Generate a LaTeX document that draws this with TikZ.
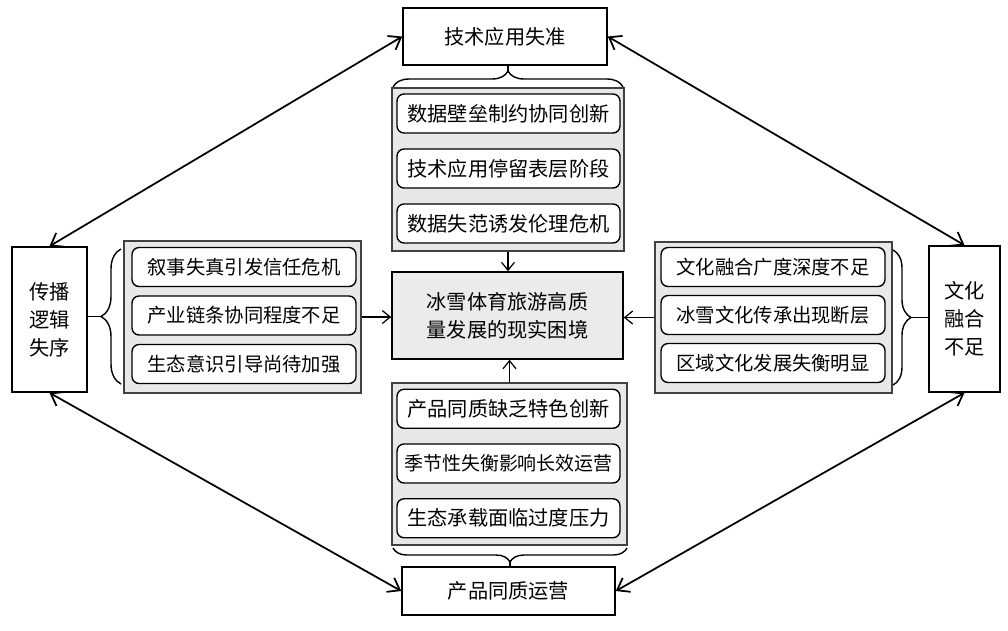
\documentclass[tikz,border=0pt]{standalone}
\usepackage{fontspec}
\newfontfamily\cjk{Noto Sans CJK SC}
\usetikzlibrary{arrows.meta,decorations.pathreplacing}

\begin{document}
\begin{tikzpicture}[x=0.02cm, y=-0.02cm, font=\cjk\fontsize{11.5}{16}\selectfont,
      box/.style={draw, line width=0.9pt, fill=white, align=center, inner sep=0pt},
      hub/.style={box, fill=black!8, minimum width=4.62cm, minimum height=1.74cm},
      grp/.style={draw=black!75, line width=1pt, fill=black!9, inner sep=0pt},
      item/.style={draw, line width=0.8pt, fill=white, rounded corners=4pt,
        minimum width=4.46cm, minimum height=0.78cm, inner sep=0pt},
      side/.style={item, minimum width=4.48cm, font=\cjk\fontsize{11}{14}\selectfont},
      brc/.style={decorate, decoration={brace, amplitude=#1}, line width=0.8pt},
      arrow/.style={-{Straight Barb[length=1.6mm, width=2.6mm]}, line width=0.7pt},
      link/.style={{Straight Barb[length=2.2mm, width=3.2mm]}-{Straight Barb[length=2.2mm, width=3.2mm]}, line width=1pt}]
    \fill[white] (0,0) rectangle (1008,630);
    \useasboundingbox (0,0) rectangle (1008,630);

    % four outer problems
    \node[box, minimum width=4.08cm, minimum height=1.14cm] (tech) at (505,36.5) {技术应用失准};
    \node[box, minimum width=4.26cm, minimum height=0.96cm] (prod) at (508.5,591) {产品同质运营};
    \node[box, minimum width=1.5cm, minimum height=2.9cm] (spread) at (49.5,319.5) {传播\\逻辑\\失序};
    \node[box, minimum width=1.42cm, minimum height=2.92cm] (culture) at (964.5,319) {文化\\融合\\不足};

    % core problem
    \node[hub] (core) at (507.5,315.5) {冰雪体育旅游高质\\量发展的现实困境};

    % grey groups
    \node[grp, minimum width=4.64cm, minimum height=3.26cm] (gtop) at (508,169.5) {};
    \node[grp, minimum width=4.7cm, minimum height=3.24cm] (gbot) at (509.5,464) {};
    \node[grp, minimum width=4.74cm, minimum height=3.04cm] (gleft) at (242.5,317) {};
    \node[grp, minimum width=4.74cm, minimum height=3.02cm] (gright) at (773.5,317.5) {};

    % items of each group
    \foreach \t [count=\i] in {数据壁垒制约协同创新, 技术应用停留表层阶段, 数据失范诱发伦理危机}
      \node[item] (top\i) at (508.5, 58.5+55*\i) {\t};
    \foreach \t [count=\i] in {产品同质缺乏特色创新, {\fontsize{10.8}{14}\selectfont 季节性失衡影响长效运营}, 生态承载面临过度压力}
      \node[item] (bot\i) at (508.5, 354+54.75*\i) {\t};
    \foreach \t [count=\i] in {叙事失真引发信任危机, 产业链条协同程度不足, 生态意识引导尚待加强}
      \node[side] (left\i) at (244, 218.5+48.5*\i) {\t};
    \foreach \t [count=\i] in {文化融合广度深度不足, 冰雪文化传承出现断层, 区域文化发展失衡明显}
      \node[side] (right\i) at (773, 219+48*\i) {\t};

    % braces and their stems
    \draw[brc=0.32cm] (393,87) -- (623,87);
    \draw[brc=0.28cm] (627,548) -- (393,548);
    \draw[brc=0.4cm] (121,384) -- (121,249);
    \draw[brc=0.36cm] (893,250) -- (893,385);
    \coordinate (ttip) at (508,71);
    \coordinate (btip) at (510,562);
    \coordinate (ltip) at (101,316.5);
    \coordinate (rtip) at (911,317.5);
    \draw[line width=0.8pt] (ttip |- tech.south) -- (ttip);
    \draw[line width=0.8pt] (btip) -- (btip |- prod.north);
    \draw[line width=0.8pt] (spread.east |- ltip) -- (ltip);
    \draw[line width=0.8pt] (rtip) -- (rtip -| culture.west);

    % groups feed the core
    \draw[arrow] (gtop.south) -- (gtop.south |- core.north);
    \draw[arrow] (gbot.north) -- (gbot.north |- core.south);
    \draw[arrow] (gleft.east) -- (gleft.east -| core.west);
    \draw[arrow] (gright.west) -- (gright.west -| core.east);

    % outer ring of links
    \draw[link] (tech.west) -- (spread.north);
    \draw[link] (tech.east) -- (culture.north);
    \draw[link] (spread.south) -- (prod.west);
    \draw[link] (culture.south) -- (prod.east);
  \end{tikzpicture}
\end{document}
